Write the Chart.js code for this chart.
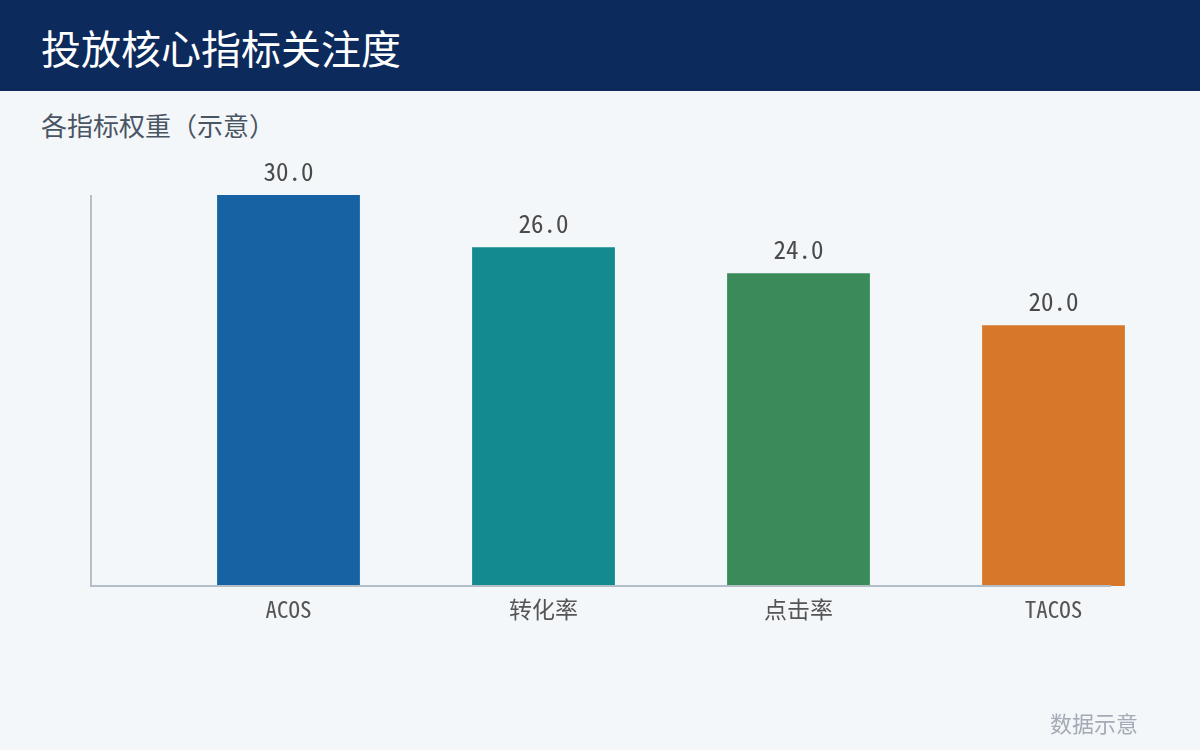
<!DOCTYPE html>
<html><head><meta charset="utf-8">
<script src="https://cdn.jsdelivr.net/npm/chart.js@4.4.1/dist/chart.umd.min.js"></script>
<style>
html,body{margin:0;padding:0;width:1200px;height:750px;background:#f4f7fa;overflow:hidden;font-family:"Noto Sans CJK SC",sans-serif;}
#hdr{position:absolute;left:0;top:0;width:1200px;height:91px;background:#0d2a5c;}
#title{position:absolute;left:41px;top:22px;font-size:40px;line-height:50px;color:#ffffff;}
#sub{position:absolute;left:41px;top:107px;font-size:26px;line-height:36px;color:#4a5563;}
#foot{position:absolute;left:1050px;top:707px;font-size:22px;line-height:30px;color:#a3abb6;}
#wrap{position:absolute;left:0;top:0;width:1200px;height:750px;}
</style></head>
<body>
<div id="hdr"></div>
<div id="title">投放核心指标关注度</div>
<div id="sub">各指标权重（示意）</div>
<div id="wrap"><canvas id="c" width="1200" height="750"></canvas></div>
<div id="foot">数据示意</div>
<script>
const categories = ["ACOS", "转化率", "点击率", "TACOS"];
const weights = [30.0, 26.0, 24.0, 20.0];
const barColors = ["#1662a2", "#128a8e", "#3a8a5a", "#d7772a"];

const monoFont = '"Noto Sans Mono CJK SC", "Noto Sans CJK SC", monospace';

const decor = {
  id: 'decor',
  beforeDatasetsDraw(chart) {
    const {ctx, chartArea} = chart;
    const x0 = chartArea.left - 71;
    ctx.save();
    ctx.strokeStyle = '#b4bec9';
    ctx.lineWidth = 2;
    ctx.beginPath();
    ctx.moveTo(x0 + 1, chartArea.top);
    ctx.lineTo(x0 + 1, chartArea.bottom);
    ctx.stroke();
    ctx.restore();
  },
  afterDatasetsDraw(chart) {
    const {ctx, chartArea} = chart;
    const x0 = chartArea.left - 71;
    ctx.save();
    ctx.strokeStyle = '#b4bec9';
    ctx.lineWidth = 2;
    ctx.beginPath();
    ctx.moveTo(x0, chartArea.bottom);
    ctx.lineTo(chartArea.right - 70, chartArea.bottom);
    ctx.stroke();
    const meta = chart.getDatasetMeta(0);
    ctx.fillStyle = '#4a4a4a';
    ctx.font = '25px ' + monoFont;
    ctx.textAlign = 'center';
    ctx.textBaseline = 'middle';
    meta.data.forEach((el, i) => {
      ctx.fillText(weights[i].toFixed(1), el.x, el.y - 24);
    });
    ctx.restore();
  }
};

new Chart(document.getElementById('c'), {
  type: 'bar',
  data: {
    labels: categories,
    datasets: [{
      data: weights,
      backgroundColor: barColors,
      borderWidth: 0,
      categoryPercentage: 1,
      barPercentage: 0.56
    }]
  },
  options: {
    responsive: false,
    animation: false,
    layout: { padding: { left: 161, right: 19, top: 195, bottom: 124 } },
    plugins: { legend: { display: false }, tooltip: { enabled: false } },
    scales: {
      x: {
        grid: { display: false, drawTicks: false },
        border: { display: false },
        ticks: { color: '#555555', padding: 9, font: { family: monoFont, size: 23 } },
        afterFit(scale) { scale.height = 40; }
      },
      y: {
        display: false,
        min: 0,
        max: 30
      }
    }
  },
  plugins: [decor]
});
</script>
</body></html>
